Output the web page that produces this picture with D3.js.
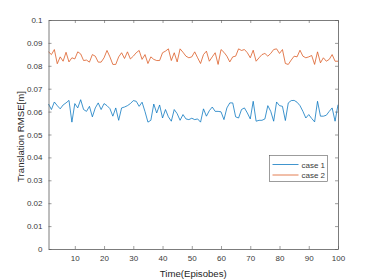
<!DOCTYPE html>
<html>
<head>
<meta charset="utf-8">
<script src="https://cdn.jsdelivr.net/npm/d3@7"></script>
<style>
  html, body { margin: 0; padding: 0; background: #fff; }
  svg { display: block; font-family: "Liberation Sans", Arial, sans-serif; }
</style>
</head>
<body>
<div id="chart"></div>
<script>
// episode index 1..100
const episodes = d3.range(1, 101);

// case 1 (blue)
const case1 = [
  0.0633, 0.0609, 0.0642, 0.0626, 0.0612, 0.0629, 0.0638, 0.0649, 0.0554, 0.0635,
  0.0616, 0.0652, 0.0609, 0.0601, 0.0623, 0.0577, 0.0616, 0.0638, 0.0609, 0.0635,
  0.0626, 0.0613, 0.0580, 0.0616, 0.0562, 0.0616, 0.0620, 0.0626, 0.0635, 0.0648,
  0.0645, 0.0623, 0.0641, 0.0600, 0.0554, 0.0562, 0.0633, 0.0594, 0.0629, 0.0572,
  0.0609, 0.0577, 0.0558, 0.0609, 0.0591, 0.0562, 0.0587, 0.0568, 0.0565, 0.0571,
  0.0565, 0.0568, 0.0554, 0.0612, 0.0580, 0.0604, 0.0620, 0.0601, 0.0601, 0.0599,
  0.0565, 0.0616, 0.0638, 0.0638, 0.0577, 0.0572, 0.0609, 0.0616, 0.0594, 0.0568,
  0.0645, 0.0558, 0.0562, 0.0562, 0.0568, 0.0626, 0.0601, 0.0558, 0.0642, 0.0626,
  0.0623, 0.0561, 0.0638, 0.0648, 0.0649, 0.0641, 0.0626, 0.0601, 0.0572, 0.0587,
  0.0570, 0.0555, 0.0645, 0.0580, 0.0580, 0.0584, 0.0601, 0.0616, 0.0558, 0.0630
];

// case 2 (orange)
const case2 = [
  0.0861, 0.0849, 0.0871, 0.0809, 0.0839, 0.0820, 0.0859, 0.0817, 0.0835, 0.0830,
  0.0861, 0.0852, 0.0823, 0.0825, 0.0816, 0.0849, 0.0842, 0.0816, 0.0816, 0.0835,
  0.0867, 0.0839, 0.0806, 0.0806, 0.0839, 0.0857, 0.0832, 0.0861, 0.0830, 0.0842,
  0.0857, 0.0867, 0.0828, 0.0849, 0.0810, 0.0839, 0.0828, 0.0823, 0.0823, 0.0857,
  0.0864, 0.0874, 0.0823, 0.0857, 0.0817, 0.0874, 0.0859, 0.0842, 0.0835, 0.0839,
  0.0861, 0.0835, 0.0810, 0.0849, 0.0864, 0.0820, 0.0839, 0.0857, 0.0806, 0.0871,
  0.0859, 0.0842, 0.0817, 0.0839, 0.0842, 0.0874, 0.0867, 0.0871, 0.0857, 0.0835,
  0.0868, 0.0820, 0.0835, 0.0849, 0.0854, 0.0842, 0.0854, 0.0871, 0.0874, 0.0854,
  0.0871, 0.0810, 0.0806, 0.0825, 0.0842, 0.0839, 0.0868, 0.0842, 0.0835, 0.0839,
  0.0845, 0.0806, 0.0861, 0.0813, 0.0835, 0.0820, 0.0828, 0.0849, 0.0820, 0.0820
];

const seriesNames = ['case 1', 'case 2'];
const xTicks = [10, 20, 30, 40, 50, 60, 70, 80, 90, 100];
const yTicks = [0, 0.01, 0.02, 0.03, 0.04, 0.05, 0.06, 0.07, 0.08, 0.09, 0.1];

const width = 374, height = 280;
const margin = { top: 20, right: 36, bottom: 31, left: 48.5 };
const colors = ['#0072bd', '#d95319'];
const axisColor = '#262626';
const boxColor = '#5a5a5a';

const svg = d3.select('#chart')
  .append('svg')
  .attr('width', width)
  .attr('height', height);

const x = d3.scaleLinear()
  .domain([1, 100])
  .range([margin.left, width - margin.right]);
const y = d3.scaleLinear()
  .domain([0, 0.1])
  .range([height - margin.bottom, margin.top]);

const fmtY = d => (d === 0 ? '0' : d3.format('.2~f')(d));

// lines
const line = d3.line()
  .x((d, i) => x(episodes[i]))
  .y(d => y(d));

[case1, case2].forEach((vals, k) => {
  svg.append('path')
    .datum(vals)
    .attr('fill', 'none')
    .attr('stroke', colors[k])
    .attr('stroke-width', 0.75)
    .attr('stroke-linejoin', 'round')
    .attr('d', line);
});

// axes (MATLAB style: box, ticks inward)
const bottomAxis = d3.axisBottom(x).tickValues(xTicks).tickSizeInner(-3).tickSizeOuter(0).tickPadding(6);
const topAxis = d3.axisTop(x).tickValues(xTicks).tickSizeInner(-3).tickSizeOuter(0).tickFormat('');
const leftAxis = d3.axisLeft(y).tickValues(yTicks).tickSizeInner(-3).tickSizeOuter(0).tickPadding(6).tickFormat(fmtY);
const rightAxis = d3.axisRight(y).tickValues(yTicks).tickSizeInner(-3).tickSizeOuter(0).tickFormat('');

const gx = svg.append('g').attr('transform', `translate(0,${y(0)})`).call(bottomAxis);
const gt = svg.append('g').attr('transform', `translate(0,${y(0.1)})`).call(topAxis);
const gy = svg.append('g').attr('transform', `translate(${x(1)},0)`).call(leftAxis);
const gr = svg.append('g').attr('transform', `translate(${x(100)},0)`).call(rightAxis);

[gx, gt, gy, gr].forEach(g => {
  g.selectAll('path').attr('stroke', boxColor).attr('stroke-width', 0.8);
  g.selectAll('line').attr('stroke', boxColor).attr('stroke-width', 0.6);
  g.selectAll('text')
    .attr('fill', '#3a3a3a')
    .style('font-size', '8px')
    .style('font-family', '"Liberation Sans", Arial, sans-serif');
});

// axis labels
svg.append('text')
  .attr('x', (x(1) + x(100)) / 2)
  .attr('y', 276.5)
  .attr('text-anchor', 'middle')
  .attr('fill', axisColor)
  .style('font-size', '9.6px')
  .text('Time(Episobes)');

svg.append('text')
  .attr('transform', `translate(24,${(y(0) + y(0.1)) / 2 + 2}) rotate(-90)`)
  .attr('text-anchor', 'middle')
  .attr('fill', axisColor)
  .style('font-size', '9.6px')
  .text('Translation RMSE[m]');

// legend
const legend = svg.append('g').attr('transform', 'translate(269.5,155.5)');
legend.append('rect')
  .attr('width', 58)
  .attr('height', 26)
  .attr('fill', '#fff')
  .attr('stroke', boxColor)
  .attr('stroke-width', 0.6);

seriesNames.forEach((name, k) => {
  const ly = 9 + k * 10.5;
  legend.append('line')
    .attr('x1', 3).attr('x2', 29)
    .attr('y1', ly).attr('y2', ly)
    .attr('stroke', colors[k])
    .attr('stroke-width', 0.75);
  legend.append('text')
    .attr('x', 32)
    .attr('y', ly + 3)
    .attr('fill', '#3a3a3a')
    .style('font-size', '8px')
    .text(name);
});
</script>
</body>
</html>
